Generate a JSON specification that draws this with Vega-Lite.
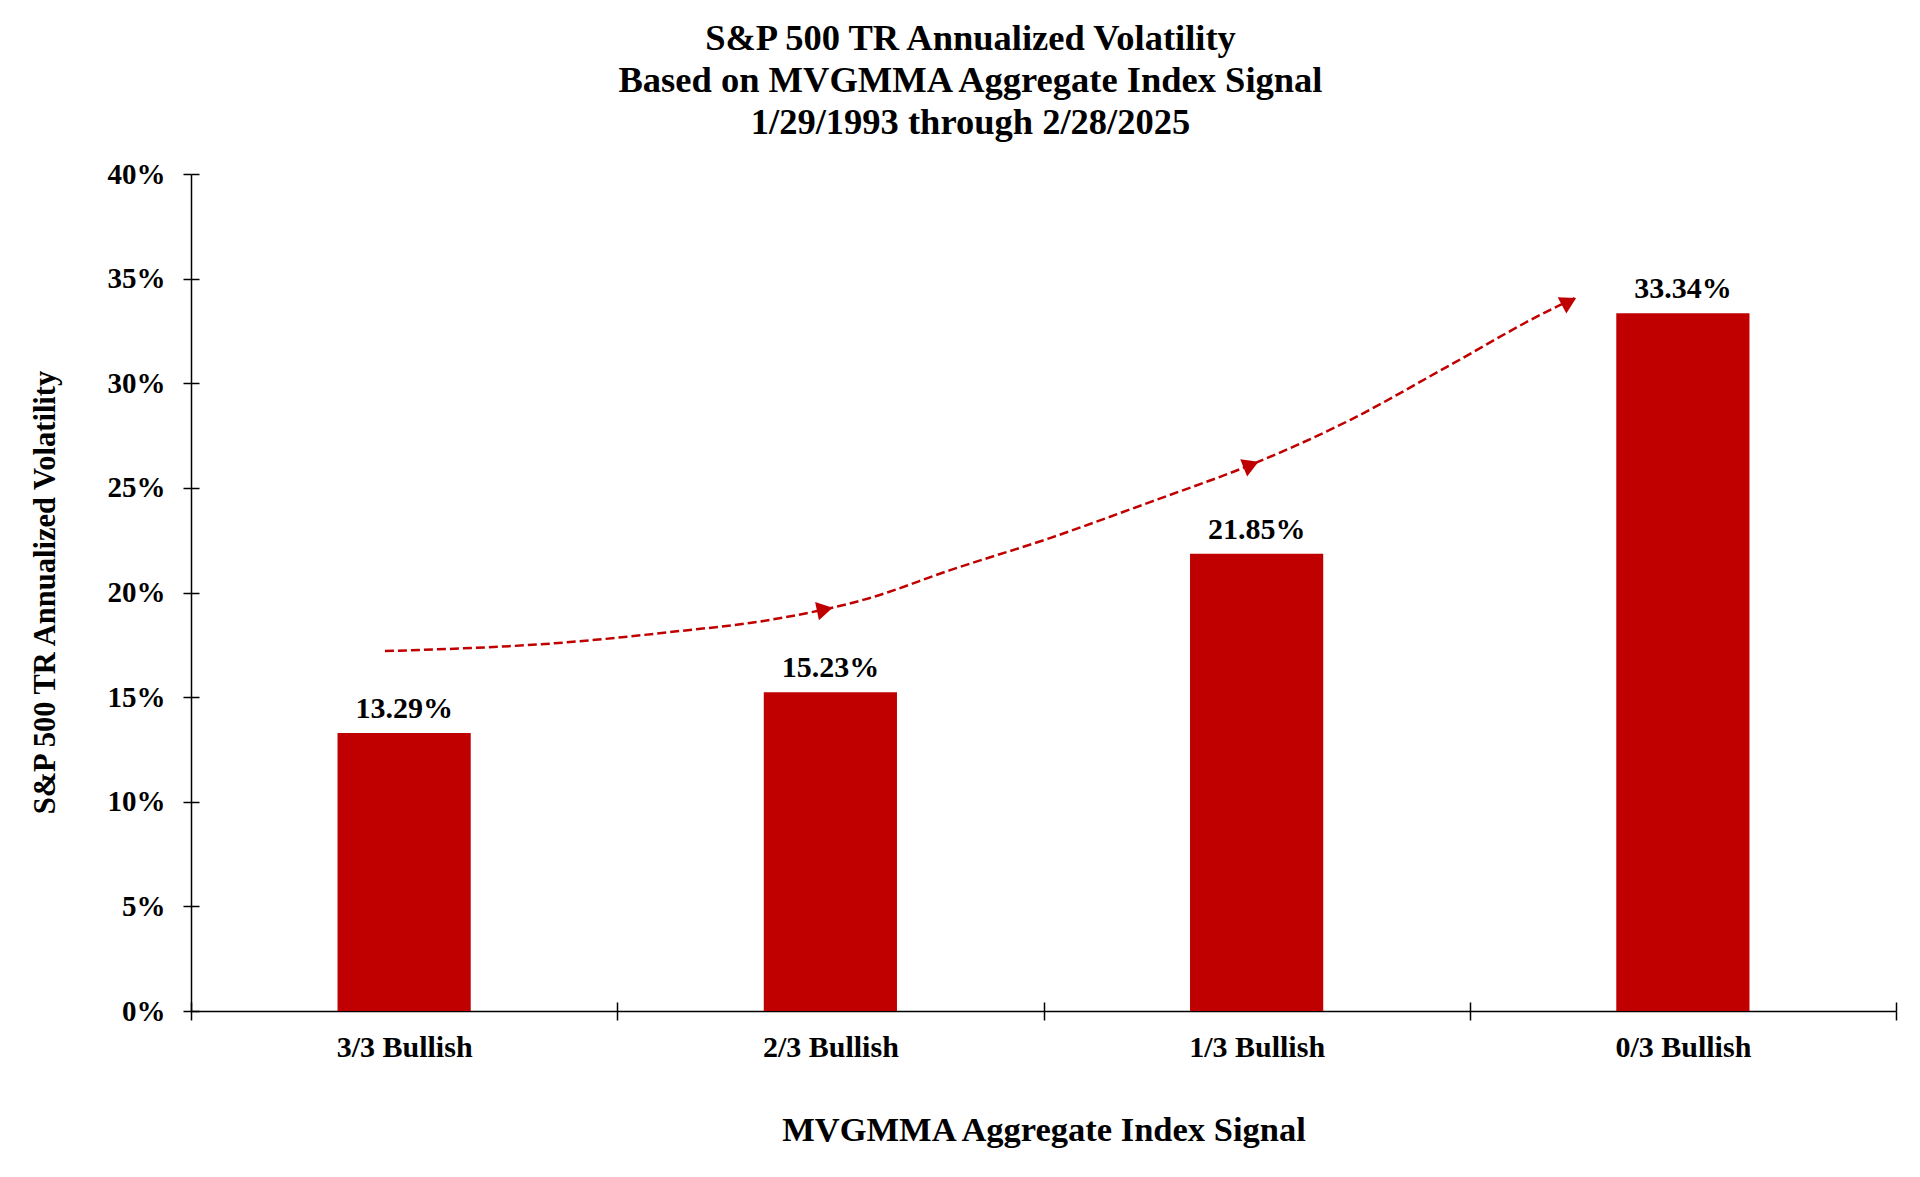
{
  "$schema": "https://vega.github.io/schema/vega-lite/v6.json",
  "width": 1705,
  "height": 837,
  "autosize": {"type": "none"},
  "padding": {"left": 191, "top": 174, "right": 24, "bottom": 166},
  "background": "white",
  "title": {
    "text": ["S&P 500 TR Annualized Volatility", "Based on MVGMMA Aggregate Index Signal", "1/29/1993 through 2/28/2025"],
    "font": "Liberation Serif",
    "fontSize": 36.5,
    "fontWeight": "bold",
    "lineHeight": 42,
    "color": "black",
    "anchor": "middle",
    "frame": "group",
    "dx": -73,
    "baseline": "bottom",
    "offset": -18
  },
  "datasets": {
    "bars": [
      {"signal": "3/3 Bullish", "vol": 0.1329},
      {"signal": "2/3 Bullish", "vol": 0.1523},
      {"signal": "1/3 Bullish", "vol": 0.2185},
      {"signal": "0/3 Bullish", "vol": 0.3334}
    ],
    "curve": [
      {"t": 0.455, "v": 0.172},
      {"t": 0.889, "v": 0.1763},
      {"t": 1.124, "v": 0.1811},
      {"t": 1.358, "v": 0.1869},
      {"t": 1.593, "v": 0.1974},
      {"t": 1.781, "v": 0.2107},
      {"t": 2.015, "v": 0.226},
      {"t": 2.25, "v": 0.2432},
      {"t": 2.503, "v": 0.2624},
      {"t": 2.719, "v": 0.2824},
      {"t": 2.954, "v": 0.3087},
      {"t": 3.188, "v": 0.335},
      {"t": 3.247, "v": 0.3407}
    ],
    "heads": [
      {"n": 1, "t": 1.487, "v": 0.1919},
      {"n": 2, "t": 2.487, "v": 0.261},
      {"n": 3, "t": 3.233, "v": 0.339}
    ]
  },
  "resolve": {
    "scale": {"x": "independent"},
    "axis": {"x": "independent", "y": "independent"}
  },
  "layer": [
    {
      "data": {"name": "bars"},
      "mark": {"type": "bar", "color": "#C00000", "width": {"band": 0.3125}},
      "encoding": {
        "x": {
          "field": "signal",
          "type": "nominal",
          "sort": null,
          "scale": {"paddingInner": 0, "paddingOuter": 0},
          "axis": {
            "orient": "bottom",
            "title": "MVGMMA Aggregate Index Signal",
            "titleFontSize": 34.5,
            "titleY": 119,
            "titleBaseline": "middle",
            "labelAngle": 0,
            "labelFontSize": 30,
            "labelBaseline": "middle",
            "labelPadding": 27,
            "tickBand": "extent",
            "tickSize": 9
          }
        },
        "y": {
          "field": "vol",
          "type": "quantitative",
          "scale": {"domain": [0, 0.4], "nice": false},
          "axis": {
            "orient": "left",
            "title": "S&P 500 TR Annualized Volatility",
            "titleFontSize": 30.5,
            "titleX": -146,
            "titleY": 418,
            "titleBaseline": "middle",
            "values": [0, 0.05, 0.1, 0.15, 0.2, 0.25, 0.3, 0.35, 0.4],
            "format": ".0%",
            "labelFontSize": 29,
            "labelPadding": 18,
            "tickSize": 8,
            "grid": false
          }
        }
      }
    },
    {
      "data": {"name": "bars"},
      "mark": {"type": "text", "font": "Liberation Serif", "fontWeight": "bold", "fontSize": 30, "baseline": "alphabetic", "dy": -15, "color": "black"},
      "encoding": {
        "x": {
          "field": "signal",
          "type": "nominal",
          "sort": null,
          "scale": {"paddingInner": 0, "paddingOuter": 0},
          "axis": {"orient": "bottom", "title": null, "labels": false, "domain": false, "tickBand": "extent", "tickSize": -9}
        },
        "y": {
          "field": "vol",
          "type": "quantitative",
          "axis": {"orient": "left", "title": null, "labels": false, "domain": false, "grid": false, "values": [0, 0.05, 0.1, 0.15, 0.2, 0.25, 0.3, 0.35, 0.4], "tickSize": -8}
        },
        "text": {"field": "vol", "type": "quantitative", "format": ".2%"}
      }
    },
    {
      "data": {"name": "curve"},
      "mark": {"type": "line", "color": "#C00000", "strokeWidth": 2.5, "strokeDash": [9, 4], "interpolate": "monotone"},
      "encoding": {
        "x": {"field": "t", "type": "quantitative", "scale": {"domain": [0, 4], "nice": false, "zero": false}, "axis": null},
        "y": {"field": "v", "type": "quantitative", "axis": null}
      }
    },
    {
      "data": {"name": "heads"},
      "transform": [{"filter": "datum.n == 1"}],
      "mark": {"type": "point", "shape": "triangle-right", "filled": true, "color": "#C00000", "size": 340, "opacity": 1, "angle": 348},
      "encoding": {
        "x": {"field": "t", "type": "quantitative", "scale": {"domain": [0, 4], "nice": false, "zero": false}, "axis": null},
        "y": {"field": "v", "type": "quantitative", "axis": null}
      }
    },
    {
      "data": {"name": "heads"},
      "transform": [{"filter": "datum.n == 2"}],
      "mark": {"type": "point", "shape": "triangle-right", "filled": true, "color": "#C00000", "size": 340, "opacity": 1, "angle": 338},
      "encoding": {
        "x": {"field": "t", "type": "quantitative", "scale": {"domain": [0, 4], "nice": false, "zero": false}, "axis": null},
        "y": {"field": "v", "type": "quantitative", "axis": null}
      }
    },
    {
      "data": {"name": "heads"},
      "transform": [{"filter": "datum.n == 3"}],
      "mark": {"type": "point", "shape": "triangle-right", "filled": true, "color": "#C00000", "size": 340, "opacity": 1, "angle": 332},
      "encoding": {
        "x": {"field": "t", "type": "quantitative", "scale": {"domain": [0, 4], "nice": false, "zero": false}, "axis": null},
        "y": {"field": "v", "type": "quantitative", "axis": null}
      }
    }
  ],
  "config": {
    "view": {"stroke": null},
    "font": "Liberation Serif",
    "axis": {
      "labelFont": "Liberation Serif",
      "labelFontWeight": "bold",
      "labelColor": "black",
      "titleFont": "Liberation Serif",
      "titleFontWeight": "bold",
      "titleColor": "black",
      "domainColor": "black",
      "domainWidth": 1.5,
      "tickColor": "black",
      "tickWidth": 1.5,
      "grid": false
    }
  }
}
